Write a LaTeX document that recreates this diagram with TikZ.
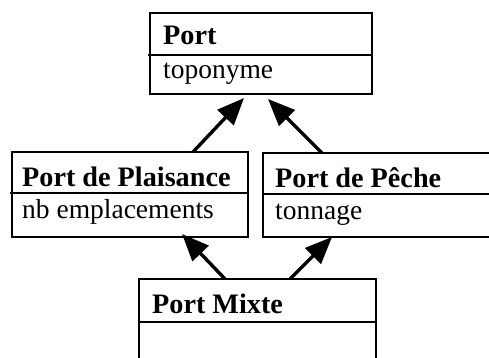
\documentclass[tikz,border=0pt]{standalone}
\usepackage{fontspec}
\setmainfont{Liberation Serif}
\usepackage{tikz}
\usetikzlibrary{arrows.meta,positioning,calc}

\tikzset{
  classe/.style={draw, line width=2.2pt, anchor=north west, outer sep=0pt, inner sep=0pt},
  trait/.style={line width=2.2pt},
  titre/.style={anchor=base west, inner sep=0pt, font=\fontsize{28.2}{33}\selectfont\bfseries},
  attr/.style={anchor=base west, inner sep=0pt, font=\fontsize{27.5}{33}\selectfont},
  herite/.style={line width=3.4pt, -{Triangle[length=27pt,width=22pt]}}
}

\begin{document}
\begin{tikzpicture}[x=1pt, y=-1pt]
        \useasboundingbox (0,0) rectangle (489,358);
        \clip (0,0) rectangle (489,358);

        % classes
        \node[classe, minimum width=222pt, minimum height=81pt] (port) at (150,13) {};
        \node[classe, minimum width=236pt, minimum height=85pt] (plaisance) at (12,152) {};
        \node[classe, minimum width=257pt, minimum height=84pt] (peche) at (263,153) {};
        \node[classe, minimum width=237pt, minimum height=121pt] (mixte) at (139,279) {};

        \draw[trait] ($(port.north west)+(-2,42)$) -- ($(port.north east)+(0,42)$);
        \draw[trait] ($(plaisance.north west)+(-2,41)$) -- ($(plaisance.north east)+(0,41)$);
        \draw[trait] ($(peche.north west)+(0,41)$) -- ($(peche.north east)+(0,41)$);
        \draw[trait] ($(mixte.north west)+(0,43)$) -- ($(mixte.north east)+(0,43)$);

        \node[titre] (portT) at ($(port.north west)+(13,32)$) {Port};
        \node[attr] (portA) at ($(port.north west)+(13,66)$) {toponyme};
        \node[titre] (plaisanceT) at ($(plaisance.north west)+(10,34)$) {Port de Plaisance};
        \node[attr] (plaisanceA) at ($(plaisance.north west)+(10,66)$) {nb emplacements};
        \node[titre] (pecheT) at ($(peche.north west)+(12,34)$) {Port de Pêche};
        \node[attr] (pecheA) at ($(peche.north west)+(12,66)$) {tonnage};
        \node[titre] (mixteT) at ($(mixte.north west)+(13,34)$) {Port Mixte};

        % heritage
        \draw[herite] ($(plaisance.north west)+(181,0)$) -- ($(port.south west)+(94,4)$);
        \draw[herite] ($(peche.north west)+(59,0)$) -- ($(port.south west)+(118,5)$);
        \draw[herite] ($(mixte.north west)+(86,0)$) -- ($(plaisance.south west)+(170,-3)$);
        \draw[herite] ($(mixte.north west)+(151,0)$) -- ($(peche.south west)+(69,0)$);
      \end{tikzpicture}
\end{document}
